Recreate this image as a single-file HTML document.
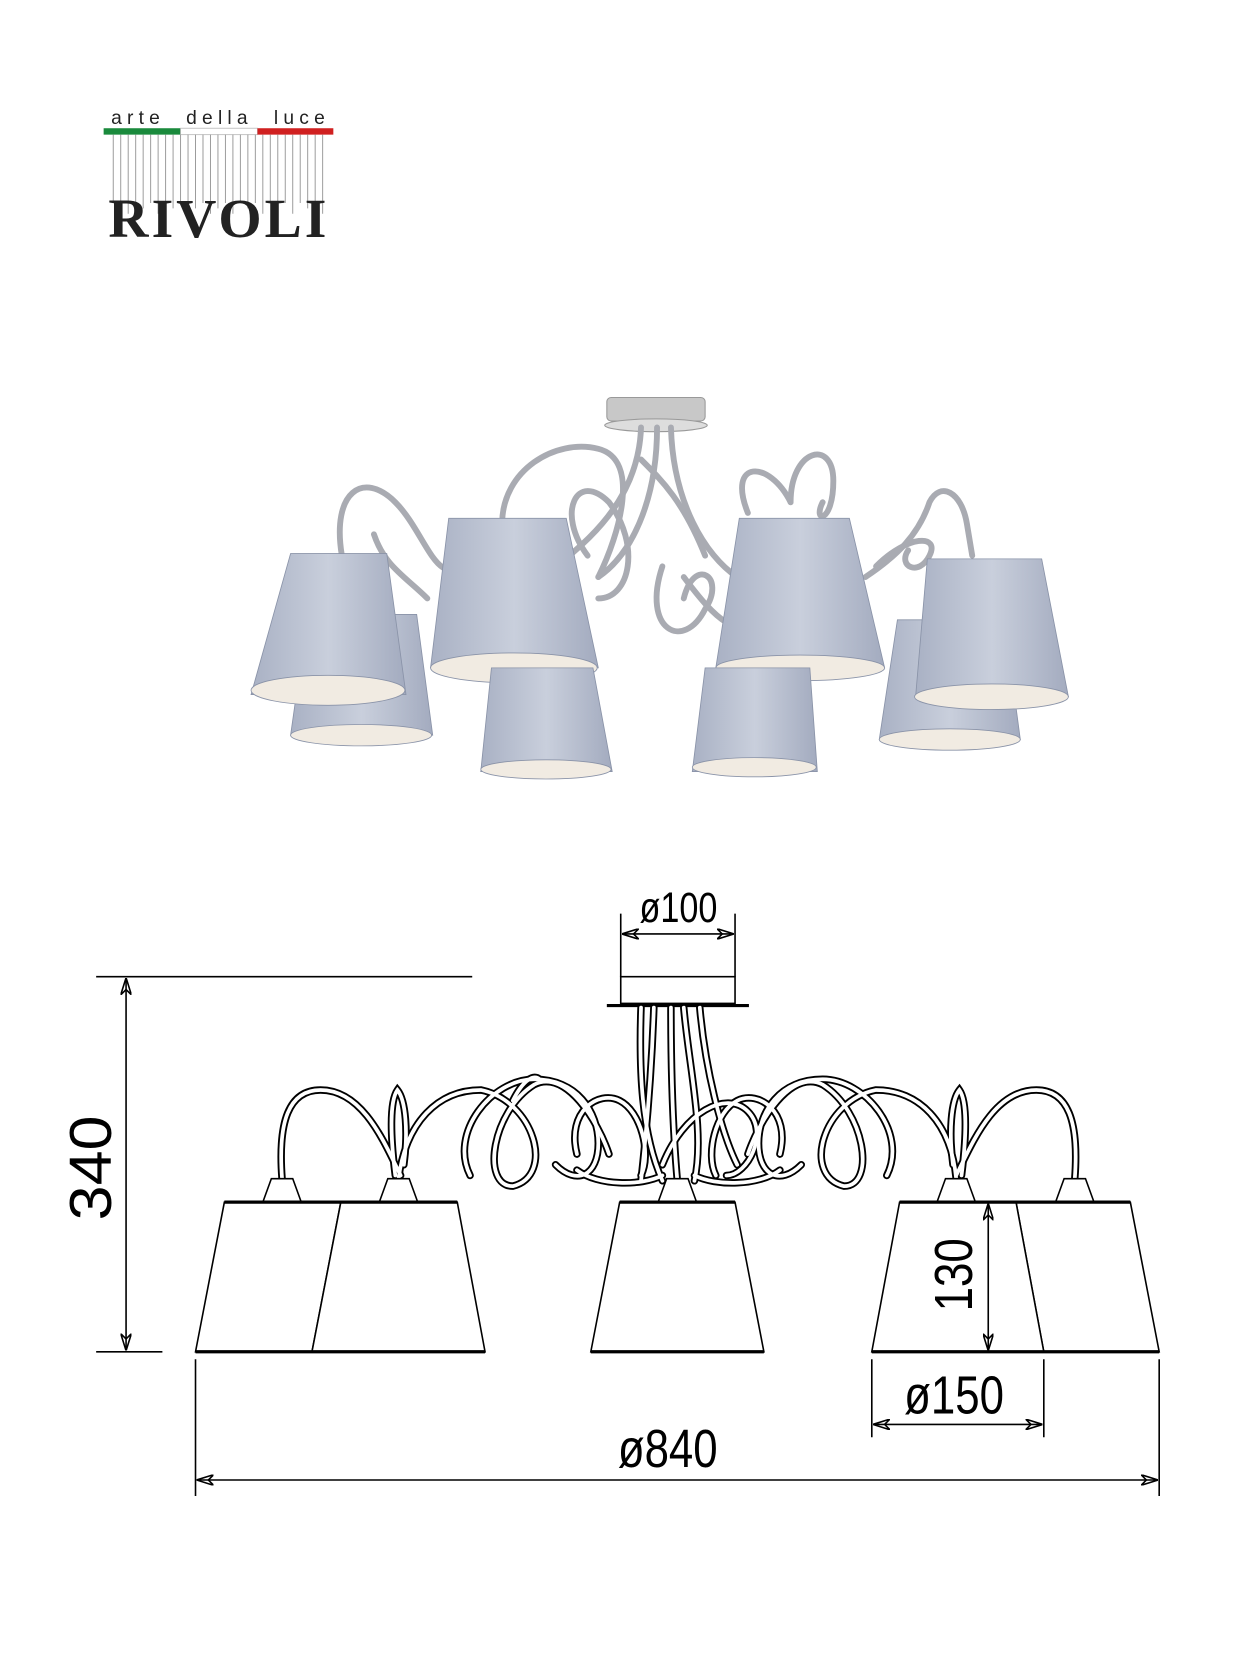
<!DOCTYPE html>
<html><head><meta charset="utf-8"><style>
html,body{margin:0;padding:0;background:#fff}
svg{display:block}
#arms path{stroke:#000;stroke-width:7}
</style></head><body>
<svg width="1250" height="1667" viewBox="0 0 1170 1560" preserveAspectRatio="none" xmlns="http://www.w3.org/2000/svg">
<defs>
<linearGradient id="sh" x1="0" x2="1" y1="0" y2="0">
<stop offset="0" stop-color="#a9b1c4"/><stop offset="0.5" stop-color="#c9cfdc"/><stop offset="1" stop-color="#a3abbf"/>
</linearGradient>
<marker id="ar" markerWidth="16" markerHeight="10" refX="15" refY="5" orient="auto-start-reverse" markerUnits="userSpaceOnUse">
<path d="M0,0 L16,5 L0,10 L5,5 Z" fill="none" stroke="#000" stroke-width="1.5"/>
</marker>
</defs>
<!-- logo -->
<text x="104" y="116" font-family="Liberation Sans, sans-serif" font-size="18" fill="#222" textLength="200" lengthAdjust="spacing" xml:space="preserve">arte  della  luce</text>
<rect x="97" y="120" width="72" height="6" fill="#1a8a3c"/>
<rect x="169" y="120" width="72" height="6" fill="#fff" stroke="#bbb" stroke-width="0.8"/>
<rect x="241" y="120" width="71" height="6" fill="#d02020"/>
<g stroke="#999" stroke-width="0.9">
<path d="M106 126V190M113 126V190M120 126V200M127 126V190M134 126V195M141 126V190M148 126V200M155 126V190M162 126V195M169 126V190M176 126V200M183 126V195M190 126V190M197 126V200M204 126V195M211 126V190M218 126V200M225 126V190M232 126V195M239 126V190M246 126V200M253 126V190M260 126V195M267 126V190M274 126V200M281 126V190M288 126V195M295 126V190M302 126V200"/>
</g>
<text x="204" y="222" font-family="Liberation Serif, serif" font-size="52" font-weight="bold" text-anchor="middle" fill="#222" letter-spacing="1" textLength="205">RIVOLI</text>

<!-- photo -->
<g>
<rect x="568" y="372" width="92" height="22" rx="4" fill="#c8c8c8" stroke="#999"/>
<ellipse cx="614" cy="398" rx="48" ry="6" fill="#ddd" stroke="#999"/>
<g fill="none" stroke="#a9abb2" stroke-width="5.5" stroke-linecap="round">
<path d="M600 400 C598 460 560 500 520 530"/>
<path d="M615 400 C615 470 590 520 560 540"/>
<path d="M628 400 C630 470 660 520 690 540"/>
<path d="M320 520 C310 460 340 440 370 470 C400 500 410 560 440 520"/>
<path d="M470 490 C470 440 520 410 560 420 C600 430 580 500 560 540"/>
<path d="M550 520 C520 480 540 440 570 470 C600 510 590 560 560 560"/>
<path d="M620 530 C600 590 640 610 660 570 C680 540 650 520 640 560"/>
<path d="M640 540 C670 580 690 600 720 580"/>
<path d="M700 480 C680 430 720 430 740 470"/>
<path d="M740 470 C740 420 780 410 780 450 C780 490 760 490 770 470"/>
<path d="M810 540 C840 520 860 500 870 470 C880 450 900 460 905 490 L910 520"/>
<path d="M350 500 C360 530 380 540 400 560"/>
<path d="M820 530 C850 500 880 500 870 520 C860 540 840 530 850 515"/>
<path d="M600 430 C620 450 640 470 660 520"/>
</g>
<g stroke="#8a93a8" stroke-width="0.8">
<path d="M288 575 L390 575 L405 688 L272 688 Z" fill="url(#sh)"/>
<ellipse cx="338" cy="688" rx="66" ry="10" fill="#f1ebe2"/>
<path d="M272 518 L362 518 L380 650 L235 650 Z" fill="url(#sh)"/>
<ellipse cx="307" cy="646" rx="72" ry="14" fill="#f1ebe2"/>
<path d="M840 580 L940 580 L955 692 L823 692 Z" fill="url(#sh)"/>
<ellipse cx="889" cy="692" rx="66" ry="10" fill="#f1ebe2"/>
<path d="M868 523 L975 523 L1000 652 L857 652 Z" fill="url(#sh)"/>
<ellipse cx="928" cy="652" rx="72" ry="12" fill="#f1ebe2"/>
<path d="M420 485 L530 485 L560 625 L403 625 Z" fill="url(#sh)"/>
<ellipse cx="481" cy="625" rx="78" ry="14" fill="#f1ebe2"/>
<path d="M692 485 L795 485 L828 625 L670 625 Z" fill="url(#sh)"/>
<ellipse cx="749" cy="625" rx="79" ry="12" fill="#f1ebe2"/>
<path d="M460 625 L555 625 L573 722 L450 722 Z" fill="url(#sh)"/>
<ellipse cx="511" cy="720" rx="61" ry="9" fill="#f1ebe2"/>
<path d="M660 625 L758 625 L765 722 L648 722 Z" fill="url(#sh)"/>
<ellipse cx="706" cy="718" rx="58" ry="9" fill="#f1ebe2"/>
</g>
</g>

<!-- drawing -->
<g fill="none" stroke="#000" stroke-width="1.5">
<line x1="90" y1="914" x2="442" y2="914"/>
<line x1="90" y1="1265" x2="152" y2="1265"/>
<line x1="118" y1="916" x2="118" y2="1263" marker-start="url(#ar)" marker-end="url(#ar)"/>
<line x1="581" y1="855" x2="581" y2="914"/>
<line x1="688" y1="855" x2="688" y2="914"/>
<line x1="583" y1="874" x2="686" y2="874" marker-start="url(#ar)" marker-end="url(#ar)"/>
<line x1="183" y1="1272" x2="183" y2="1400"/>
<line x1="1085" y1="1272" x2="1085" y2="1400"/>
<line x1="185" y1="1385" x2="1083" y2="1385" marker-start="url(#ar)" marker-end="url(#ar)"/>
<line x1="816" y1="1272" x2="816" y2="1345"/>
<line x1="977" y1="1272" x2="977" y2="1345"/>
<line x1="818" y1="1333" x2="975" y2="1333" marker-start="url(#ar)" marker-end="url(#ar)"/>
</g>
<rect x="581" y="914" width="107" height="25" fill="#fff" stroke="#000" stroke-width="1.5"/>
<line x1="568" y1="941" x2="701" y2="941" stroke="#000" stroke-width="3"/>
<g fill="none" stroke-linecap="round" id="arms">
<path d="M600 943 C598 1000 600 1060 620 1105"/>
<path d="M612 943 C610 1000 605 1060 600 1105"/>
<path d="M628 943 C628 1000 630 1060 634 1105"/>
<path d="M640 943 C645 1000 660 1060 650 1105"/>
<path d="M655 943 C660 1000 675 1060 690 1090"/>
<path d="M264 1103 C260 1050 270 1020 300 1020 C340 1020 360 1070 375 1100"/>
<path d="M1006 1103 C1010 1050 1000 1020 970 1020 C930 1020 910 1070 895 1100"/>
<path d="M373 1103 C380 1050 410 1020 450 1020 C500 1030 520 1100 480 1110 C450 1110 460 1040 500 1015 C530 1000 560 1050 570 1080"/>
<path d="M895 1103 C890 1050 860 1020 820 1020 C770 1030 750 1100 790 1110 C820 1110 810 1040 770 1015 C740 1000 710 1050 700 1080"/>
<path d="M440 1100 C420 1060 460 1010 500 1010 C540 1010 560 1040 560 1070 C560 1100 540 1110 520 1090"/>
<path d="M830 1100 C850 1060 810 1010 770 1010 C730 1010 710 1040 710 1070 C710 1100 730 1110 750 1090"/>
<path d="M540 1080 C530 1040 560 1020 580 1030 C600 1040 610 1080 600 1100"/>
<path d="M730 1080 C740 1040 710 1020 690 1030 C670 1040 660 1080 670 1100"/>
<path d="M620 1090 C640 1040 680 1020 700 1040 C720 1060 700 1100 680 1100"/>
<path d="M370 1100 C365 1060 365 1030 372 1020 C380 1030 382 1060 378 1090"/>
<path d="M900 1100 C905 1060 905 1030 898 1020 C890 1030 888 1060 892 1090"/>
<path d="M480 1030 C490 1010 500 1005 505 1010"/>
<path d="M540 1095 C560 1110 600 1110 620 1100"/>
<path d="M730 1095 C710 1110 670 1110 650 1100"/>
</g>
<g fill="none" stroke="#fff" stroke-width="3.5" stroke-linecap="round">
<path d="M600 943 C598 1000 600 1060 620 1105"/>
<path d="M612 943 C610 1000 605 1060 600 1105"/>
<path d="M628 943 C628 1000 630 1060 634 1105"/>
<path d="M640 943 C645 1000 660 1060 650 1105"/>
<path d="M655 943 C660 1000 675 1060 690 1090"/>
<path d="M264 1103 C260 1050 270 1020 300 1020 C340 1020 360 1070 375 1100"/>
<path d="M1006 1103 C1010 1050 1000 1020 970 1020 C930 1020 910 1070 895 1100"/>
<path d="M373 1103 C380 1050 410 1020 450 1020 C500 1030 520 1100 480 1110 C450 1110 460 1040 500 1015 C530 1000 560 1050 570 1080"/>
<path d="M895 1103 C890 1050 860 1020 820 1020 C770 1030 750 1100 790 1110 C820 1110 810 1040 770 1015 C740 1000 710 1050 700 1080"/>
<path d="M440 1100 C420 1060 460 1010 500 1010 C540 1010 560 1040 560 1070 C560 1100 540 1110 520 1090"/>
<path d="M830 1100 C850 1060 810 1010 770 1010 C730 1010 710 1040 710 1070 C710 1100 730 1110 750 1090"/>
<path d="M540 1080 C530 1040 560 1020 580 1030 C600 1040 610 1080 600 1100"/>
<path d="M730 1080 C740 1040 710 1020 690 1030 C670 1040 660 1080 670 1100"/>
<path d="M620 1090 C640 1040 680 1020 700 1040 C720 1060 700 1100 680 1100"/>
<path d="M370 1100 C365 1060 365 1030 372 1020 C380 1030 382 1060 378 1090"/>
<path d="M900 1100 C905 1060 905 1030 898 1020 C890 1030 888 1060 892 1090"/>
<path d="M480 1030 C490 1010 500 1005 505 1010"/>
<path d="M540 1095 C560 1110 600 1110 620 1100"/>
<path d="M730 1095 C710 1110 670 1110 650 1100"/>
</g>
<g fill="#fff" stroke="#000" stroke-width="1.5">
<path d="M254 1103 L274 1103 L282 1125 L246 1125 Z"/>
<path d="M363 1103 L383 1103 L391 1125 L355 1125 Z"/>
<path d="M624 1103 L644 1103 L652 1125 L616 1125 Z"/>
<path d="M885 1103 L905 1103 L913 1125 L877 1125 Z"/>
<path d="M996 1103 L1016 1103 L1024 1125 L988 1125 Z"/>
</g>
<g fill="#fff" stroke="#000" stroke-width="1.5">
<path d="M210 1125 L319 1125 L292 1265 L183 1265 Z"/>
<path d="M319 1125 L428 1125 L454 1265 L292 1265 Z"/>
<path d="M580 1125 L688 1125 L715 1265 L553 1265 Z"/>
<path d="M951 1125 L1058 1125 L1085 1265 L977 1265 Z"/>
<path d="M842 1125 L951 1125 L977 1265 L816 1265 Z"/>
</g>
<g stroke="#000" stroke-width="3">
<line x1="210" y1="1125" x2="428" y2="1125"/><line x1="183" y1="1265" x2="454" y2="1265"/>
<line x1="580" y1="1125" x2="688" y2="1125"/><line x1="553" y1="1265" x2="715" y2="1265"/>
<line x1="842" y1="1125" x2="1058" y2="1125"/><line x1="816" y1="1265" x2="1085" y2="1265"/>
</g>
<line x1="925" y1="1127" x2="925" y2="1263" stroke="#000" stroke-width="1.5" marker-start="url(#ar)" marker-end="url(#ar)"/>
<g font-family="Liberation Sans Narrow, Liberation Sans, sans-serif" fill="#000">
<text x="635" y="863" font-size="40" text-anchor="middle" transform="translate(635 863) scale(0.8 1) translate(-635 -863)">ø100</text>
<text transform="translate(104 1093) rotate(-90) scale(1.05 1)" font-size="56" text-anchor="middle">340</text>
<text x="625" y="1373" font-size="50" text-anchor="middle" transform="translate(625 1373) scale(0.82 1) translate(-625 -1373)">ø840</text>
<text x="893" y="1323" font-size="50" text-anchor="middle" transform="translate(893 1323) scale(0.82 1) translate(-893 -1323)">ø150</text>
<text transform="translate(910 1193) rotate(-90) scale(0.82 1)" font-size="50" text-anchor="middle">130</text>
</g>
</svg>
</body></html>
